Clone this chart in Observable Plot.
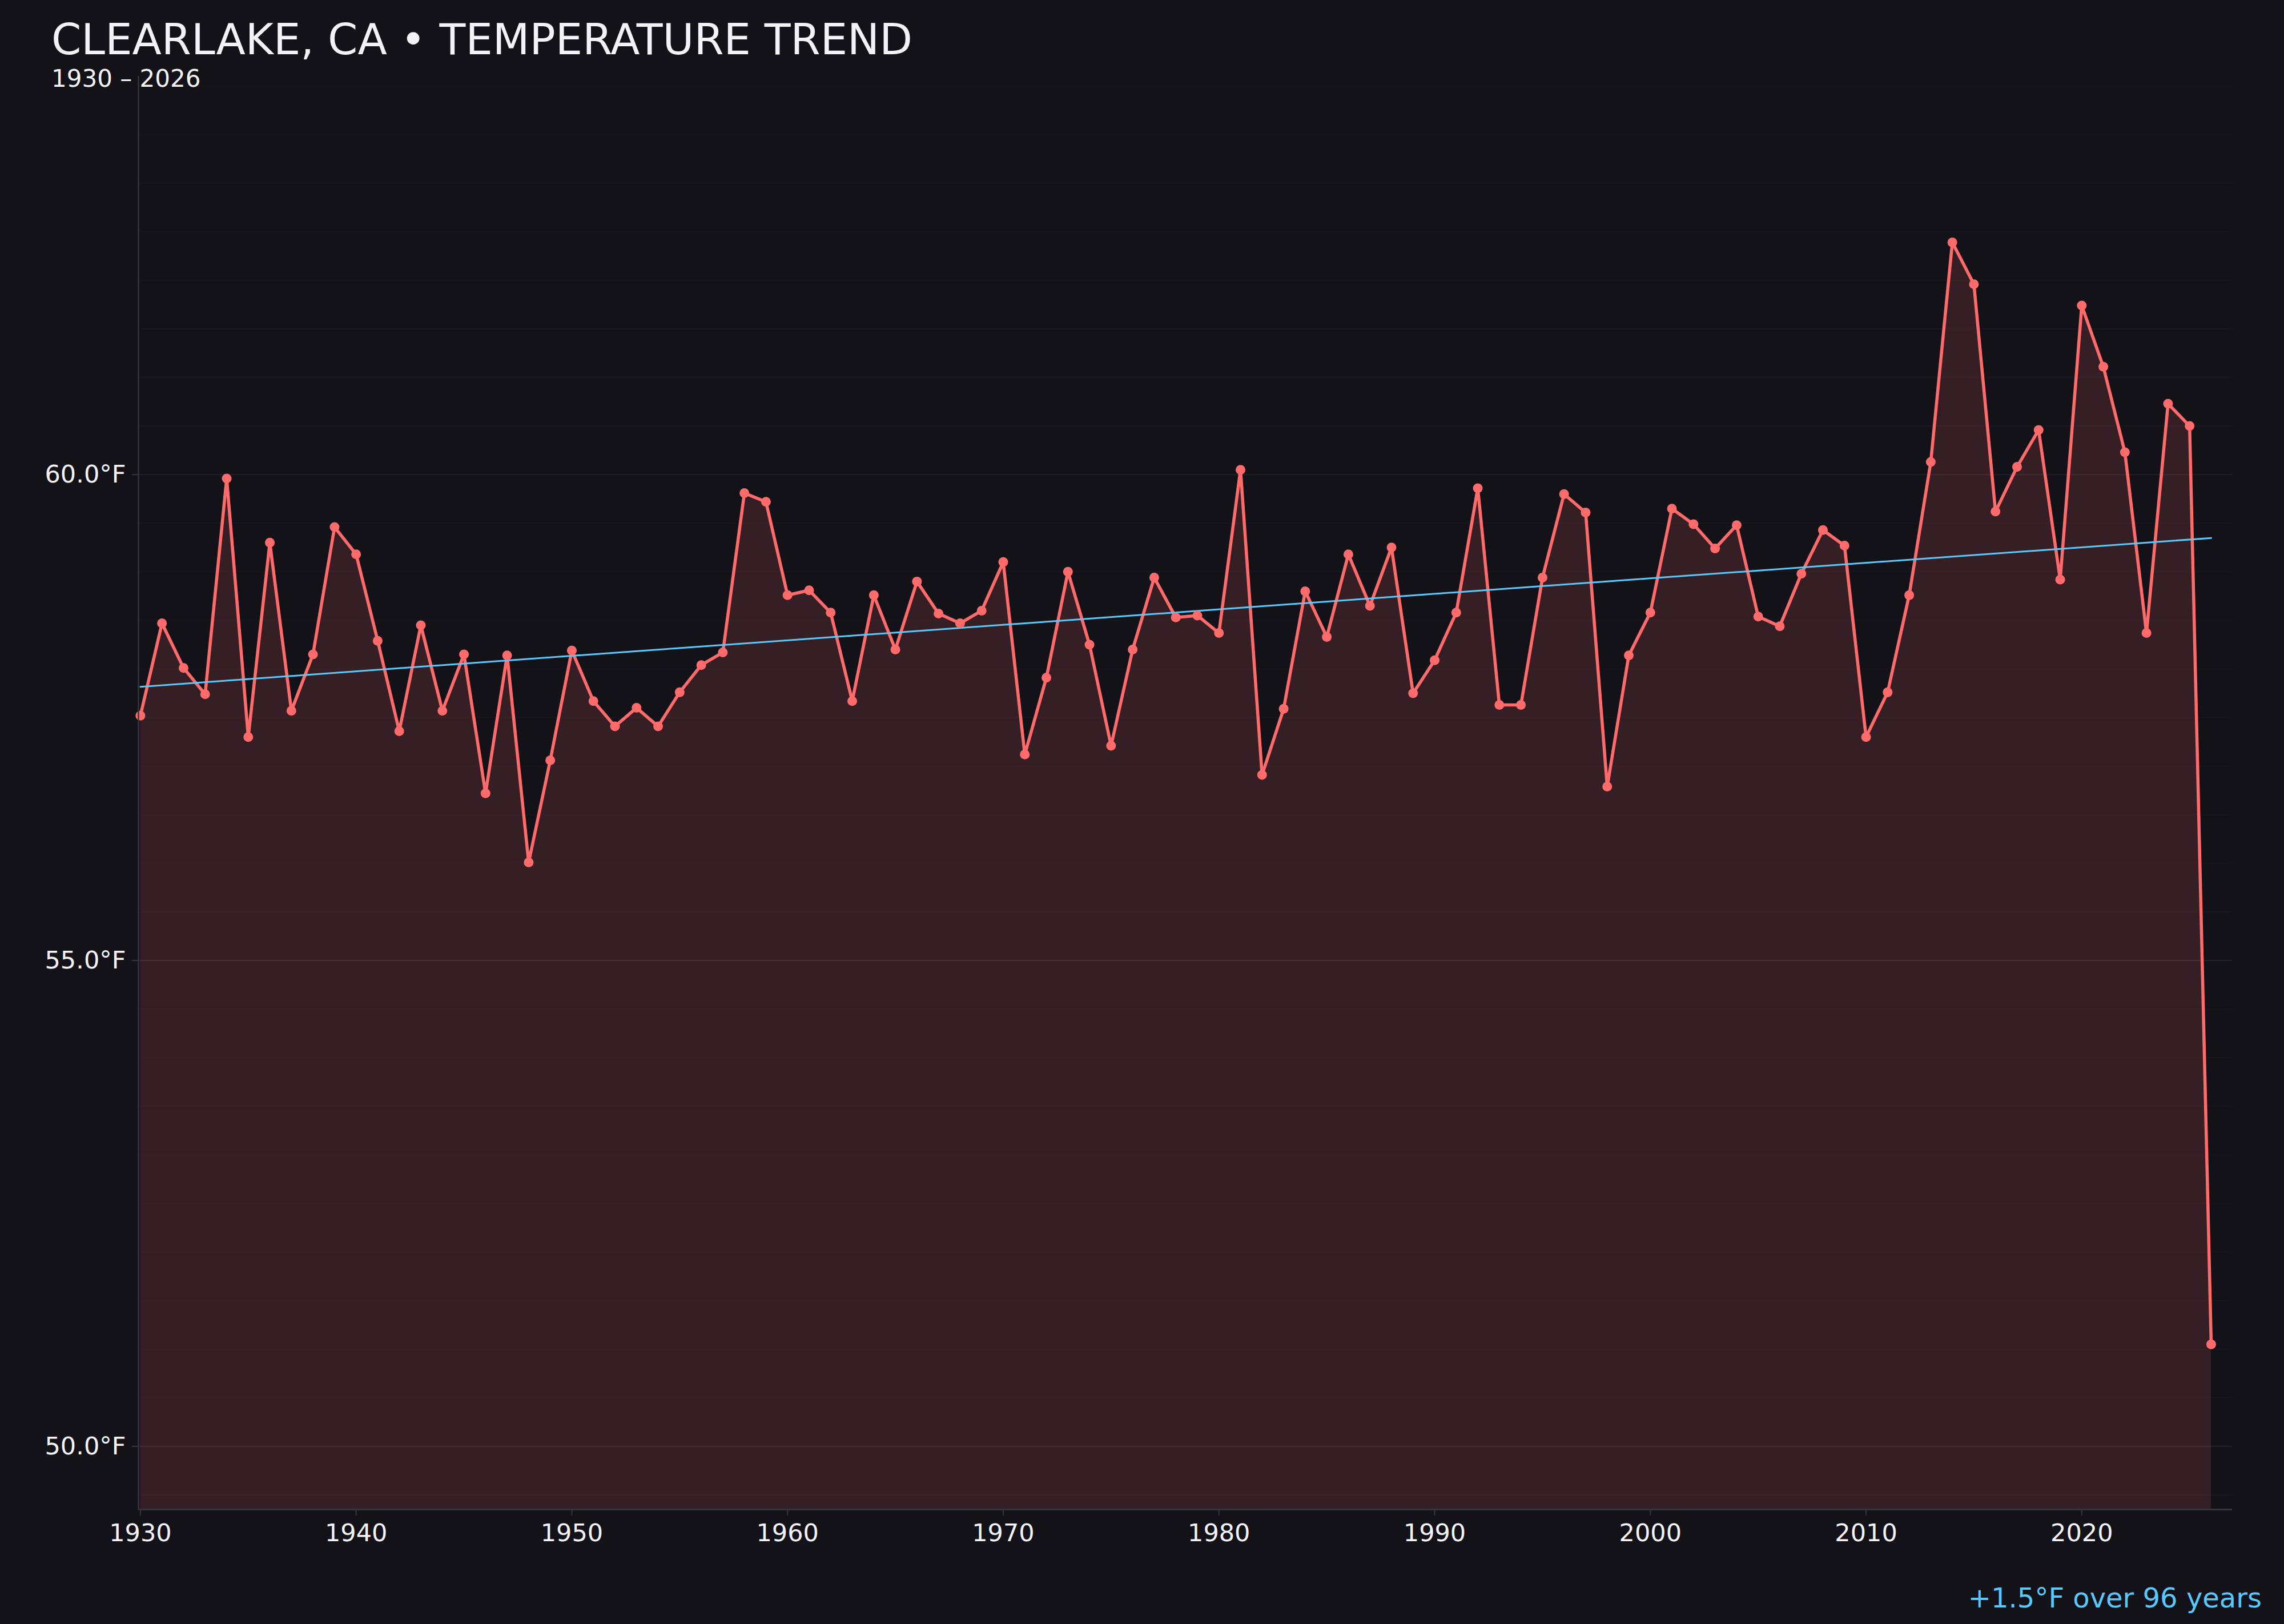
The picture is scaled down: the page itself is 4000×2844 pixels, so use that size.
<!DOCTYPE html>
<html>
<head>
<meta charset="utf-8">
<script src="https://cdn.jsdelivr.net/npm/d3@7"></script>
<script src="https://cdn.jsdelivr.net/npm/@observablehq/plot@0.6"></script>
<style>
  html, body { margin: 0; padding: 0; background: #131218; }
  #wrap { width: 4000px; font-family: "DejaVu Sans", sans-serif; color: #f2f2f7; }
  #header { position: relative; height: 123px; }
  #title { position: absolute; left: 90px; top: 36px; font-size: 75px; line-height: 66px; white-space: nowrap; color: #f2f2f7; }
  #subtitle { position: absolute; left: 90px; top: 119.5px; font-size: 42px; line-height: 36px; white-space: nowrap; color: #f2f2f7; }
  #chart svg { display: block; }
  #footer { position: relative; height: 111px; }
  #caption { position: absolute; right: 39px; top: 41px; font-size: 48px; line-height: 48px; white-space: nowrap; color: #5ac8fa; }
</style>
</head>
<body>
<div id="wrap">
  <div id="header">
    <div id="title">CLEARLAKE, CA • TEMPERATURE TREND</div>
    <div id="subtitle">1930 – 2026</div>
  </div>
  <div id="chart"></div>
  <div id="footer"><div id="caption"></div></div>
</div>
<script>
const years = d3.range(1930, 2027);
const temps = [
  57.52, 58.47, 58.01, 57.74, 59.96, 57.30, 59.30, 57.57, 58.15, 59.46,
  59.18, 58.29, 57.36, 58.45, 57.57, 58.15, 56.72, 58.14, 56.01, 57.06,
  58.19, 57.67, 57.41, 57.60, 57.41, 57.76, 58.04, 58.17, 59.81, 59.72,
  58.76, 58.81, 58.58, 57.67, 58.76, 58.20, 58.90, 58.57, 58.47, 58.60,
  59.10, 57.12, 57.91, 59.00, 58.25, 57.21, 58.20, 58.94, 58.53, 58.55,
  58.37, 60.05, 56.91, 57.59, 58.80, 58.33, 59.18, 58.65, 59.25, 57.75,
  58.09, 58.58, 59.86, 57.63, 57.63, 58.94, 59.80, 59.61, 56.79, 58.14,
  58.58, 59.65, 59.49, 59.24, 59.48, 58.54, 58.44, 58.98, 59.43, 59.27,
  57.30, 57.76, 58.76, 60.13, 62.39, 61.96, 59.62, 60.08, 60.46, 58.92,
  61.74, 61.11, 60.23, 58.37, 60.73, 60.50, 51.05
];
const xTicks = [1930, 1940, 1950, 1960, 1970, 1980, 1990, 2000, 2010, 2020];
const yTicks = [50, 55, 60];
const yMinorTicks = d3.range(49.5, 64.01, 0.5);
const xDomain = [1929.91, 2026.98];
const yDomain = [49.35, 64.1];

const data = years.map((year, i) => ({year, temp: temps[i]}));

// trend text from least squares fit
const xm = d3.mean(years), ym = d3.mean(temps);
const slope = d3.sum(years, (x, i) => (x - xm) * (temps[i] - ym)) / d3.sum(years, x => (x - xm) ** 2);
const span = years[years.length - 1] - years[0];
const change = slope * span;
document.getElementById("caption").textContent =
  (change >= 0 ? "+" : "") + change.toFixed(1) + "°F over " + span + " years";

const axisColor = "#36353e";

const chart = Plot.plot({
  width: 4000,
  height: 2610,
  marginTop: 10,
  marginBottom: 90,
  marginLeft: 242,
  marginRight: 91,
  style: {background: "transparent", color: "#f2f2f7", fontFamily: "DejaVu Sans", fontSize: "43px"},
  x: {domain: xDomain, label: null},
  y: {domain: yDomain, label: null},
  marks: [
    Plot.gridY(yMinorTicks, {stroke: "#ffffff", strokeOpacity: 0.02, strokeWidth: 2}),
    Plot.gridY(yTicks, {stroke: "#ffffff", strokeOpacity: 0.055, strokeWidth: 2}),
    Plot.areaY(data, {x: "year", y1: yDomain[0], y2: "temp", fill: "#ff6b6b", fillOpacity: 0.15}),
    Plot.line(data, {x: "year", y: "temp", stroke: "#ff6b6b", strokeWidth: 5.5}),
    Plot.linearRegressionY(data, {x: "year", y: "temp", stroke: "#5ac8fa", strokeWidth: 3, ci: 0}),
    Plot.dot(data, {x: "year", y: "temp", r: 8.5, fill: "#ff6b6b", stroke: "none"}),
    Plot.ruleX([xDomain[0]], {stroke: axisColor, strokeWidth: 2.5}),
    Plot.ruleY([yDomain[0]], {stroke: axisColor, strokeWidth: 3}),
    Plot.axisX({ticks: xTicks, tickFormat: d => String(d), label: null, tickSize: 11, tickPadding: 14, stroke: axisColor, strokeWidth: 2, fontSize: 43, fill: "#f2f2f7"}),
    Plot.axisY({ticks: yTicks, tickFormat: d => d.toFixed(1) + "°F", label: null, tickSize: 11, tickPadding: 11, stroke: axisColor, strokeWidth: 2, fontSize: 43, fill: "#f2f2f7"})
  ]
});
document.getElementById("chart").appendChild(chart);
</script>
</body>
</html>
